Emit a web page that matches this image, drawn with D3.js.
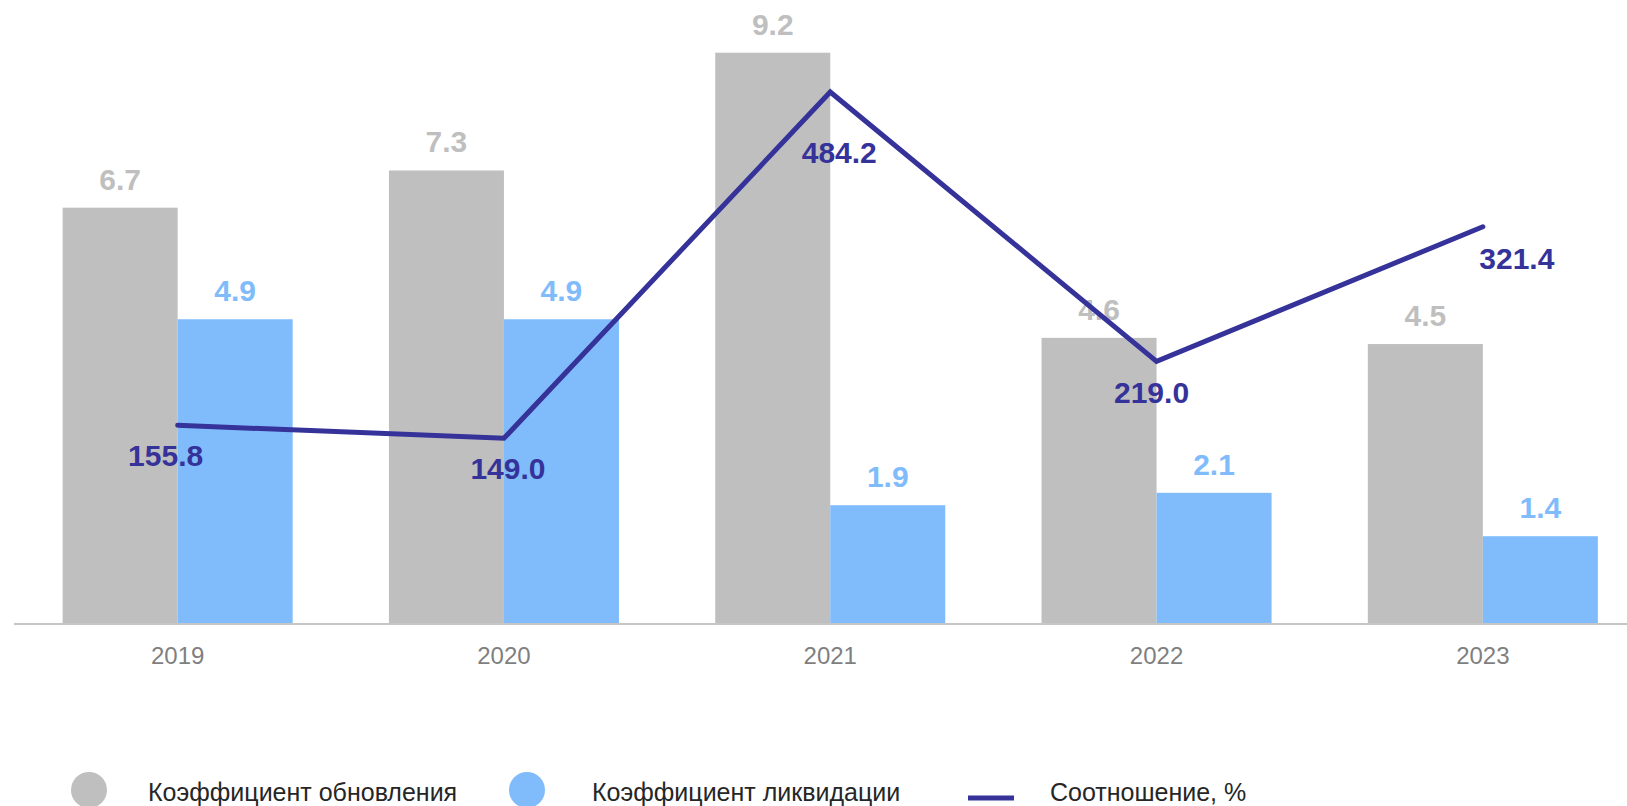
<!DOCTYPE html>
<html>
<head>
<meta charset="utf-8">
<script src="https://cdn.jsdelivr.net/npm/d3@7"></script>
<style>
  body { margin: 0; background: #fff; }
  svg { display: block; font-family: "Liberation Sans", Arial, sans-serif; }
</style>
</head>
<body>
<div id="my_dataviz"></div>
<script>
var years = ["2019", "2020", "2021", "2022", "2023"];
var renewal = [6.7, 7.3, 9.2, 4.6, 4.5];        // Коэффициент обновления
var liquidation = [4.9, 4.9, 1.9, 2.1, 1.4];    // Коэффициент ликвидации
var ratio = [161.6, 149.0, 484.2, 223.5, 353.8]; // line position
var ratioLabels = ["155.8", "149.0", "484.2", "219.0", "321.4"];
var legendNames = ["Коэффициент обновления", "Коэффициент ликвидации", "Соотношение, %"];

var width = 1627,
    height = 806,
    axisY = 623;

var grey = "#bfbfbf", blue = "#80bcfb", navy = "#35329a";

// label nudges for the ratio line (dx, dy from the point)
var ratioLabelDx = [-12, 4, 9, -5, 34],
    ratioLabelDy = [41, 41, 71, 42, 42];

var svg = d3.select("#my_dataviz")
    .append("svg")
    .attr("width", width)
    .attr("height", height);

const x = d3.scaleBand()
    .domain(years)
    .range([14.5, 14.5 + 5 * 326.3])
    .paddingInner(0.295)
    .paddingOuter(0.1475);

const y = d3.scaleLinear()
    .domain([0, 10.05])
    .range([axisY, 0]);

const y2 = d3.scaleLinear()
    .domain([0, 573.3])
    .range([592.2, 0]);

var half = x.bandwidth() / 2;

// bars
svg.append("g").selectAll("rect")
    .data(renewal)
    .join("rect")
    .attr("x", function(d, i) { return x(years[i]); })
    .attr("y", function(d) { return y(d); })
    .attr("width", half)
    .attr("height", function(d) { return y(0) - y(d); })
    .attr("fill", grey);

svg.append("g").selectAll("rect")
    .data(liquidation)
    .join("rect")
    .attr("x", function(d, i) { return x(years[i]) + half; })
    .attr("y", function(d) { return y(d); })
    .attr("width", half)
    .attr("height", function(d) { return y(0) - y(d); })
    .attr("fill", blue);

// bar labels
svg.append("g").selectAll("text")
    .data(renewal)
    .join("text")
    .attr("x", function(d, i) { return x(years[i]) + half / 2; })
    .attr("y", function(d) { return y(d) - 18; })
    .attr("text-anchor", "middle")
    .attr("font-size", 30)
    .attr("font-weight", "bold")
    .attr("fill", grey)
    .text(function(d) { return d.toFixed(1); });

svg.append("g").selectAll("text")
    .data(liquidation)
    .join("text")
    .attr("x", function(d, i) { return x(years[i]) + half * 1.5; })
    .attr("y", function(d) { return y(d) - 18; })
    .attr("text-anchor", "middle")
    .attr("font-size", 30)
    .attr("font-weight", "bold")
    .attr("fill", blue)
    .text(function(d) { return d.toFixed(1); });

// x axis
var xAxis = svg.append("g")
    .attr("transform", `translate(0, ${axisY + 1})`)
    .call(d3.axisBottom(x).tickSize(0).tickPadding(23));
xAxis.select(".domain")
    .attr("d", "M14,0H" + width)
    .attr("stroke", "#c6c6c6")
    .attr("stroke-width", 2);
xAxis.selectAll("text")
    .attr("font-family", "Liberation Sans, Arial, sans-serif")
    .attr("font-size", 24)
    .attr("fill", "#7f7f7f");

// ratio line
var cx = function(i) { return x(years[i]) + half; };

svg.append("path")
    .datum(ratio)
    .attr("fill", "none")
    .attr("stroke", navy)
    .attr("stroke-width", 5)
    .attr("stroke-linecap", "round")
    .attr("d", d3.line()
        .x(function(d, i) { return cx(i); })
        .y(function(d) { return y2(d); }));

svg.append("g").selectAll("text")
    .data(ratio)
    .join("text")
    .attr("x", function(d, i) { return cx(i) + ratioLabelDx[i]; })
    .attr("y", function(d, i) { return y2(d) + ratioLabelDy[i]; })
    .attr("text-anchor", "middle")
    .attr("font-size", 30)
    .attr("font-weight", "bold")
    .attr("fill", navy)
    .text(function(d, i) { return ratioLabels[i]; });

// legend
var legend = svg.append("g").attr("transform", "translate(0, 790)");
var textX = [148, 592, 1050];

legend.append("circle").attr("cx", 89).attr("cy", 0).attr("r", 18).attr("fill", grey);
legend.append("circle").attr("cx", 527).attr("cy", 0).attr("r", 18).attr("fill", blue);
legend.append("line")
    .attr("x1", 968).attr("x2", 1014)
    .attr("y1", 8).attr("y2", 8)
    .attr("stroke", navy).attr("stroke-width", 5);

legend.selectAll("text")
    .data(legendNames)
    .join("text")
    .attr("x", function(d, i) { return textX[i]; })
    .attr("y", 11)
    .attr("font-size", 25)
    .attr("fill", "#262626")
    .text(function(d) { return d; });
</script>
</body>
</html>
